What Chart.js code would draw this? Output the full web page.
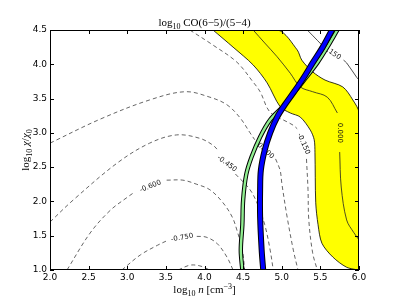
<!DOCTYPE html>
<html>
<head>
<meta charset="utf-8">
<script src="https://cdn.jsdelivr.net/npm/chart.js@4"></script>
<style>
  body { margin: 0; background: #fff; }
  #wrap { width: 399px; height: 301px; }
</style>
</head>
<body>
<div id="wrap"><canvas id="ratioChart" width="399" height="301"></canvas></div>
<script>
// axes: x = log10 n [cm^-3], y = log10 chi/chi0
const xTicks = [2.0, 2.5, 3.0, 3.5, 4.0, 4.5, 5.0, 5.5, 6.0];
const yTicks = [1.0, 1.5, 2.0, 2.5, 3.0, 3.5, 4.0, 4.5];

// contours of log10 CO(6-5)/(5-4), [log n, log chi] pairs, split where the label sits
const levelM090 = [[3.66, 1.00], [3.81, 1.07], [3.94, 1.06], [4.07, 1.00]];
const levelM075a = [[2.93, 1.00], [3.17, 1.22], [3.39, 1.36], [3.52, 1.43]];
const levelM075b = [[3.90, 1.49], [4.02, 1.48], [4.16, 1.39], [4.29, 1.19], [4.37, 1.00]];
const levelM060a = [[2.22, 1.00], [2.52, 1.54], [2.78, 1.87], [3.00, 2.06], [3.10, 2.14]];
const levelM060b = [[3.51, 2.31], [3.72, 2.31], [3.90, 2.25], [4.07, 2.17], [4.24, 1.98], [4.36, 1.77], [4.42, 1.58], [4.49, 1.29], [4.52, 1.00]];
const levelM045a = [[2.00, 1.70], [2.30, 2.02], [2.87, 2.56], [3.29, 2.85], [3.64, 2.97], [3.94, 2.92], [4.11, 2.82], [4.18, 2.74]];
const levelM045b = [[4.40, 2.40], [4.59, 2.17], [4.69, 1.95], [4.78, 1.66], [4.85, 1.29], [4.89, 1.00]];
const levelM030a = [[2.00, 2.85], [2.65, 3.20], [3.29, 3.48], [3.75, 3.60], [4.07, 3.52], [4.29, 3.41], [4.46, 3.22], [4.59, 3.00], [4.65, 2.90]];
const levelM030b = [[4.92, 2.62], [4.98, 2.45], [5.00, 2.27], [5.07, 1.77], [5.15, 1.29], [5.21, 1.00]];
const levelM015a = [[3.81, 4.50], [4.11, 4.28], [4.42, 4.03], [4.63, 3.74], [4.72, 3.60], [4.85, 3.30], [5.07, 3.16], [5.15, 3.11], [5.20, 3.06]];
const levelM015b = [[5.32, 2.62], [5.34, 2.17], [5.35, 1.73], [5.40, 1.25], [5.46, 1.00]];
const level000a = [[4.63, 4.50], [4.78, 4.31], [4.94, 4.11], [5.11, 3.87], [5.24, 3.67], [5.40, 3.60], [5.59, 3.52], [5.72, 3.29]];
const level000b = [[5.75, 2.72], [5.77, 2.21], [5.84, 1.73], [5.93, 1.55], [6.00, 1.44]];
const level015a = [[5.33, 4.50], [5.46, 4.35], [5.52, 4.28]];
const level015b = [[5.80, 4.06], [5.84, 4.02], [5.97, 3.81], [6.00, 3.77]];

// observed band (yellow): lower edge, then upper edge
const bandLower = [[4.11, 4.50], [4.37, 4.25], [4.63, 3.99], [4.81, 3.73], [4.98, 3.38], [5.11, 3.29], [5.24, 3.23], [5.37, 3.04], [5.42, 2.90], [5.43, 2.71], [5.44, 1.98], [5.47, 1.66], [5.52, 1.39], [5.66, 1.19], [5.84, 1.04], [6.00, 1.00]];
const bandUpper = [[6.00, 3.29], [5.92, 3.48], [5.79, 3.67], [5.56, 3.77], [5.40, 3.89], [5.26, 4.06], [5.20, 4.21], [4.95, 4.50]];

// the two thick tracks
const greenTrack = [[5.72, 4.50], [5.59, 4.25], [5.46, 4.02], [5.31, 3.80], [5.17, 3.60], [5.02, 3.39], [4.85, 3.19], [4.72, 2.94], [4.61, 2.65], [4.54, 2.39], [4.50, 2.02], [4.49, 1.66], [4.47, 1.29], [4.49, 1.00]];
const blueTrack = [[5.65, 4.50], [5.53, 4.25], [5.40, 4.02], [5.28, 3.80], [5.16, 3.60], [5.04, 3.41], [4.94, 3.23], [4.85, 3.00], [4.78, 2.75], [4.73, 2.46], [4.72, 2.17], [4.72, 1.77], [4.74, 1.29], [4.76, 1.00]];

// inline contour labels: text, x, y, angle
const contourLabels = [
  ['-0.750', 3.71, 1.47, -10],
  ['-0.600', 3.30, 2.22, -22],
  ['-0.450', 4.29, 2.55, 37],
  ['-0.300', 4.78, 2.75, 42],
  ['-0.150', 5.28, 2.84, 66],
  ['0.000', 5.75, 3.00, 90],
  ['0.150', 5.65, 4.17, 35]
];

const pts = a => a.map(p => ({ x: p[0], y: p[1] }));

function contour(a, dashed, order) {
  return {
    data: pts(a), showLine: true, pointRadius: 0, fill: false, tension: 0.35,
    borderColor: dashed ? '#555' : '#222', borderWidth: dashed ? 0.9 : 0.8,
    borderDash: dashed ? [4, 3] : [], order: order, clip: 0
  };
}

function track(a, color, width, order) {
  return {
    data: pts(a), showLine: true, pointRadius: 0, fill: false, tension: 0.35,
    borderColor: color, borderWidth: width, order: order, clip: 0,
    borderCapStyle: 'butt'
  };
}

const datasets = [
  track(blueTrack, '#0000ff', 4, 0),
  track(blueTrack, '#000', 6, 1),
  track(greenTrack, '#90ee90', 2.4, 2),
  track(greenTrack, '#000', 4.4, 3),
  contour(levelM090, true, 10),
  contour(levelM075a, true, 10),
  contour(levelM075b, true, 10),
  contour(levelM060a, true, 10),
  contour(levelM060b, true, 10),
  contour(levelM045a, true, 10),
  contour(levelM045b, true, 10),
  contour(levelM030a, true, 10),
  contour(levelM030b, true, 10),
  contour(levelM015a, true, 10),
  contour(levelM015b, true, 10),
  contour(level000a, false, 10),
  contour(level000b, false, 10),
  contour(level015a, false, 10),
  contour(level015b, false, 10),
  {
    data: pts(bandLower.concat(bandUpper, [bandLower[0]])), showLine: true, pointRadius: 0,
    fill: 'shape', backgroundColor: '#ffff00', borderColor: '#000', borderWidth: 0.8,
    tension: 0.3, order: 20, clip: 0
  }
];

// draw text with sub/superscripts
function richText(ctx, segs, cx, cy) {
  let w = 0;
  segs.forEach(s => { ctx.font = s.f; s.w = ctx.measureText(s.t).width; w += s.w; });
  let x = cx - w / 2;
  ctx.textAlign = 'left';
  ctx.textBaseline = 'alphabetic';
  segs.forEach(s => { ctx.font = s.f; ctx.fillText(s.t, x, cy + (s.dy || 0)); x += s.w; });
}

const SERIF = '"Liberation Serif", "DejaVu Serif", serif';
const labelsPlugin = {
  id: 'labels',
  beforeDatasetDraw(chart, args) {
    if (args.index !== 3) return;
    const ctx = chart.ctx, xs = chart.scales.x, ys = chart.scales.y;
    ctx.save();
    ctx.fillStyle = '#111';
    ctx.font = '7px "DejaVu Sans"';
    ctx.textAlign = 'center';
    ctx.textBaseline = 'middle';
    contourLabels.forEach(l => {
      ctx.save();
      ctx.translate(xs.getPixelForValue(l[1]), ys.getPixelForValue(l[2]));
      ctx.rotate(l[3] * Math.PI / 180);
      ctx.fillText(l[0], 0, 0);
      ctx.restore();
    });
    ctx.restore();
  },
  afterDraw(chart) {
    const ctx = chart.ctx, a = chart.chartArea, xs = chart.scales.x, ys = chart.scales.y;
    ctx.save();
    ctx.strokeStyle = '#000';
    ctx.lineWidth = 1;
    ctx.strokeRect(a.left + 0.5, a.top + 0.5, a.right - a.left - 1, a.bottom - a.top - 1);
    ctx.beginPath();
    xTicks.forEach(v => {
      const x = Math.round(xs.getPixelForValue(v)) + 0.5;
      ctx.moveTo(x, a.bottom); ctx.lineTo(x, a.bottom - 4);
      ctx.moveTo(x, a.top); ctx.lineTo(x, a.top + 4);
    });
    yTicks.forEach(v => {
      const y = Math.round(ys.getPixelForValue(v)) + 0.5;
      ctx.moveTo(a.left, y); ctx.lineTo(a.left + 4, y);
      ctx.moveTo(a.right, y); ctx.lineTo(a.right - 4, y);
    });
    ctx.stroke();

    ctx.fillStyle = '#000';
    const big = '11px ' + SERIF, small = '8px ' + SERIF, ital = 'italic 11px ' + SERIF;
    richText(ctx, [
      { t: 'log', f: big }, { t: '10', f: small, dy: 2.5 },
      { t: ' CO(6\u22125)/(5\u22124)', f: big }
    ], (a.left + a.right) / 2, 26);
    richText(ctx, [
      { t: 'log', f: big }, { t: '10', f: small, dy: 2.5 }, { t: ' ', f: big },
      { t: 'n', f: ital }, { t: ' [cm', f: big }, { t: '\u22123', f: small, dy: -4 },
      { t: ']', f: big }
    ], (a.left + a.right) / 2, 293);
    ctx.save();
    ctx.translate(29, (a.top + a.bottom) / 2);
    ctx.rotate(-Math.PI / 2);
    richText(ctx, [
      { t: 'log', f: big }, { t: '10', f: small, dy: 2.5 }, { t: ' ', f: big },
      { t: '\u03c7', f: ital }, { t: '/', f: big }, { t: '\u03c7', f: ital },
      { t: '0', f: small, dy: 2.5 }
    ], 0, 0);
    ctx.restore();
    ctx.restore();
  }
};

new Chart(document.getElementById('ratioChart'), {
  type: 'scatter',
  data: { datasets: datasets },
  options: {
    responsive: false,
    animation: false,
    layout: { padding: { left: 0, top: 30, right: 40, bottom: 0 } },
    plugins: { legend: { display: false }, tooltip: { enabled: false } },
    scales: {
      x: {
        type: 'linear', min: 2, max: 6,
        afterBuildTicks: s => { s.ticks = xTicks.map(v => ({ value: v })); },
        afterFit: s => { s.height = 31; },
        ticks: { callback: v => v.toFixed(1), color: '#000', padding: 2, maxRotation: 0, font: { family: 'DejaVu Sans', size: 9 } },
        grid: { display: false, drawTicks: false },
        border: { display: false }
      },
      y: {
        type: 'linear', min: 1, max: 4.5,
        afterBuildTicks: s => { s.ticks = yTicks.map(v => ({ value: v })); },
        afterFit: s => { s.width = 50; },
        ticks: { callback: v => v.toFixed(1), color: '#000', padding: 3, font: { family: 'DejaVu Sans', size: 9 } },
        grid: { display: false, drawTicks: false },
        border: { display: false }
      }
    }
  },
  plugins: [labelsPlugin]
});
</script>
</body>
</html>
